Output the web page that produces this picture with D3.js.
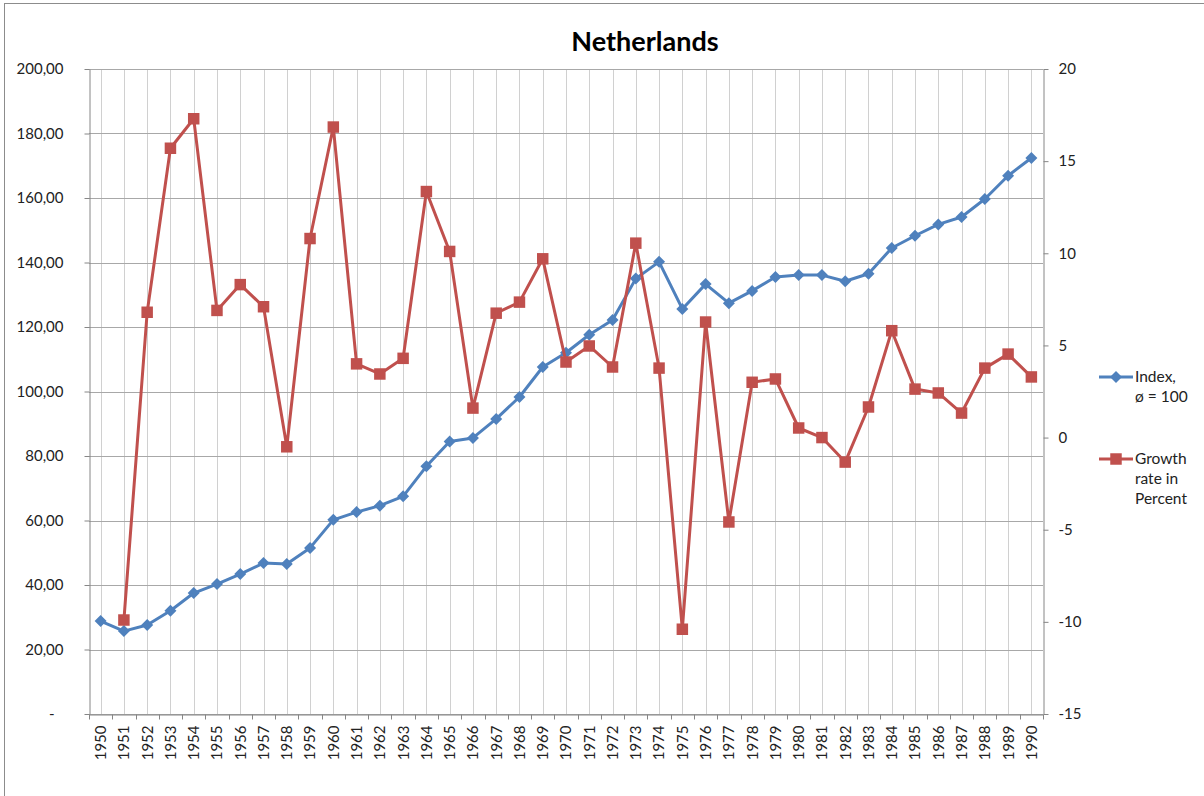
<!DOCTYPE html>
<html>
<head>
<meta charset="utf-8">
<script src="https://cdn.jsdelivr.net/npm/d3@7"></script>
<style>
  html, body { margin: 0; padding: 0; background: #fff; }
  svg { display: block; font-family: Lato, "Open Sans", sans-serif; }
</style>
</head>
<body>
<svg id="chart" width="1204" height="796"></svg>
<script>
// ---- data ----
const title = "Netherlands";
const years = d3.range(1950, 1991).map(String);
const indexValues = [28.8, 25.7, 27.6, 32.0, 37.5, 40.3, 43.4, 46.8, 46.5, 51.5,
  60.2, 62.6, 64.6, 67.5, 76.8, 84.5, 85.6, 91.5, 98.3, 107.6,
  112.0, 117.6, 122.2, 135.0, 140.2, 125.6, 133.3, 127.4, 131.2, 135.5,
  136.1, 136.1, 134.2, 136.5, 144.5, 148.3, 151.8, 154.1, 159.7, 166.9, 172.4];
const growthValues = [null, -9.9, 6.8, 15.7, 17.3, 6.9, 8.3, 7.1, -0.5, 10.8,
  16.85, 4.0, 3.45, 4.3, 13.35, 10.1, 1.6, 6.75, 7.35, 9.7,
  4.1, 4.97, 3.83, 10.55, 3.77, -10.4, 6.27, -4.58, 3.0, 3.18,
  0.52, 0.0, -1.33, 1.66, 5.8, 2.63, 2.42, 1.33, 3.77, 4.53, 3.29];
const leftTicks = [0, 20, 40, 60, 80, 100, 120, 140, 160, 180, 200];
const rightTicks = [-15, -10, -5, 0, 5, 10, 15, 20];
const legendIndex = ["Index,", "ø = 100"];
const legendGrowth = ["Growth", "rate in", "Percent"];

// ---- layout ----
const blue = "#4f81bd", red = "#c0504d";
const svg = d3.select("#chart");
const L = 89, R = 1043, T = 69, B = 714;

const x = d3.scaleBand().domain(years).range([L, R]);
const bw = x.bandwidth();
const cx = d => x(d) + bw / 2;
const yL = d3.scaleLinear().domain([0, 200]).range([B, T]);
const yR = d3.scaleLinear().domain([-15, 20]).range([B, T]);

// outer border
svg.append("rect").attr("x", 4.5).attr("y", 3.5).attr("width", 1400).attr("height", 1000)
  .attr("fill", "none").attr("stroke", "#8c8c8c").attr("stroke-width", 1);

// vertical gridlines (through category centres)
svg.append("g").selectAll("line").data(years).join("line")
  .attr("x1", d => Math.round(cx(d)) + 0.5).attr("x2", d => Math.round(cx(d)) + 0.5)
  .attr("y1", T).attr("y2", B)
  .attr("stroke", "#d0d0d0").attr("stroke-width", 1);

// horizontal gridlines (left axis ticks)
svg.append("g").selectAll("line").data(leftTicks).join("line")
  .attr("x1", L).attr("x2", R)
  .attr("y1", d => Math.round(yL(d)) + 0.5).attr("y2", d => Math.round(yL(d)) + 0.5)
  .attr("stroke", "#a8a8a8").attr("stroke-width", 1);

// left axis
const fmt = d => d === 0 ? "-" : d3.format(".2f")(d).replace(".", ",");
const gL = svg.append("g").attr("transform", `translate(${L + 0.5},0)`)
  .call(d3.axisLeft(yL).tickValues(leftTicks).tickFormat(fmt).tickSizeInner(5).tickSizeOuter(0).tickPadding(21));
gL.selectAll("text").attr("font-size", 15).attr("fill", "#222").attr("font-family", "Lato, sans-serif");
gL.selectAll(".tick text").filter(d => d === 0).attr("dx", -9);

// right axis
const gR = svg.append("g").attr("transform", `translate(${R + 0.5},0)`)
  .call(d3.axisRight(yR).tickValues(rightTicks).tickFormat(d => String(d)).tickSizeInner(5).tickSizeOuter(0).tickPadding(10));
gR.selectAll("text").attr("font-size", 15).attr("fill", "#222").attr("font-family", "Lato, sans-serif");

// bottom axis: labels at centres, ticks at boundaries
const gB = svg.append("g").attr("transform", `translate(0,${B + 0.5})`)
  .call(d3.axisBottom(x).tickSize(0).tickPadding(0));
gB.selectAll(".tick text")
  .attr("font-size", 15).attr("fill", "#222").attr("font-family", "Lato, sans-serif")
  .attr("transform", "rotate(-90)").attr("text-anchor", "end")
  .attr("x", -11).attr("y", 0).attr("dy", "0.36em");
const bounds = years.map(d => x(d)).concat([R]);
gB.selectAll(".bt").data(bounds).join("line").attr("class", "bt")
  .attr("x1", d => Math.round(d) + 0.5).attr("x2", d => Math.round(d) + 0.5)
  .attr("y1", 0).attr("y2", 5).attr("stroke", "#868686");

[gL, gR, gB].forEach(g => {
  g.selectAll(".domain").attr("stroke", "#868686");
  g.selectAll(".tick line").attr("stroke", "#868686");
});

// title
svg.append("text").attr("x", 645).attr("y", 51).attr("text-anchor", "middle")
  .attr("font-size", 27).attr("font-weight", "bold").attr("fill", "#000")
  .attr("font-family", "Lato, sans-serif").text(title);

// series
const idxData = years.map((y, i) => ({ y, v: indexValues[i] }));
const grData = years.map((y, i) => ({ y, v: growthValues[i] })).filter(d => d.v !== null);

const diamond = d3.symbol().type(d3.symbolSquare).size(72);
const square = d3.symbol().type(d3.symbolSquare).size(132);

svg.append("path").datum(idxData)
  .attr("d", d3.line().x(d => cx(d.y)).y(d => yL(d.v)))
  .attr("fill", "none").attr("stroke", blue).attr("stroke-width", 3).attr("stroke-linejoin", "round");
svg.append("g").selectAll("path").data(idxData).join("path")
  .attr("transform", d => `translate(${cx(d.y)},${yL(d.v)}) rotate(45)`)
  .attr("d", diamond)
  .attr("fill", blue);

svg.append("path").datum(grData)
  .attr("d", d3.line().x(d => cx(d.y)).y(d => yR(d.v)))
  .attr("fill", "none").attr("stroke", red).attr("stroke-width", 3).attr("stroke-linejoin", "round");
svg.append("g").selectAll("path").data(grData).join("path")
  .attr("transform", d => `translate(${cx(d.y)},${yR(d.v)})`)
  .attr("d", square)
  .attr("fill", red);

// legend
function legendItem(yLine, color, sym, rot, lines) {
  const g = svg.append("g");
  g.append("line").attr("x1", 1099).attr("x2", 1133).attr("y1", yLine).attr("y2", yLine)
    .attr("stroke", color).attr("stroke-width", 3);
  g.append("path").attr("transform", `translate(1116,${yLine}) rotate(${rot})`).attr("d", sym).attr("fill", color);
  g.selectAll("text").data(lines).join("text")
    .attr("x", 1135).attr("y", (d, i) => yLine + 5 + i * 20)
    .attr("font-size", 15.5).attr("fill", "#222").attr("font-family", "Lato, sans-serif")
    .text(d => d);
}
legendItem(377, blue, diamond(), 45, legendIndex);
legendItem(459, red, square(), 0, legendGrowth);
</script>
</body>
</html>
